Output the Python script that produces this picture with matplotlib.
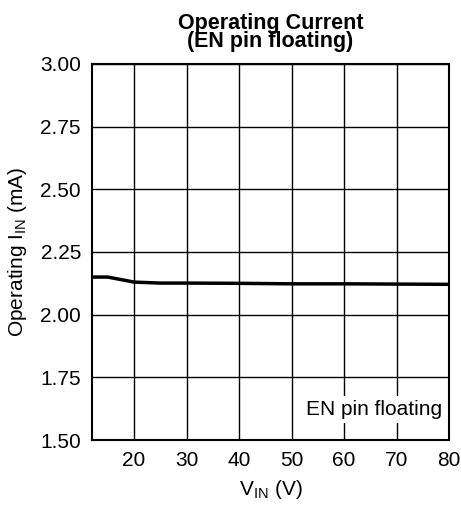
import matplotlib.pyplot as plt

plt.rcParams['font.family'] = ['Liberation Sans', 'DejaVu Sans']

# Data
vin = [12, 15, 20, 25, 30, 40, 50, 60, 70, 80]
iin = [2.150, 2.150, 2.130, 2.126, 2.126, 2.125, 2.123, 2.123, 2.122, 2.121]

x_ticks = [20, 30, 40, 50, 60, 70, 80]
y_ticks = [1.50, 1.75, 2.00, 2.25, 2.50, 2.75, 3.00]

fig = plt.figure(figsize=(4.61, 5.05), dpi=100)
ax = fig.add_axes([0.1996, 0.1287, 0.7744, 0.7446])

ax.plot(vin, iin, color='black', linewidth=2.5, zorder=3)

ax.set_xlim(12, 80)
ax.set_ylim(1.5, 3.0)
ax.set_xticks(x_ticks)
ax.set_yticks(y_ticks)
ax.set_yticklabels([f'{v:.2f}' for v in y_ticks])
ax.tick_params(length=0, labelsize=15, pad=8)
ax.grid(True, color='black', linewidth=1)
for s in ax.spines.values():
    s.set_linewidth(1.5)

ax.set_xlabel('V$_{\\mathregular{IN}}$ (V)', fontsize=15, labelpad=6)
ax.set_ylabel('Operating I$_{\\mathregular{IN}}$ (mA)', fontsize=15, labelpad=8)
ax.set_title('Operating Current\n(EN pin floating)', fontsize=15.5, fontweight='bold',
             linespacing=0.85, pad=12)

ax.text(0.98, 0.055, 'EN pin floating', transform=ax.transAxes, ha='right', va='bottom',
        fontsize=15, bbox=dict(facecolor='white', edgecolor='none', pad=3), zorder=4)

fig.savefig('out.png', dpi=100)
